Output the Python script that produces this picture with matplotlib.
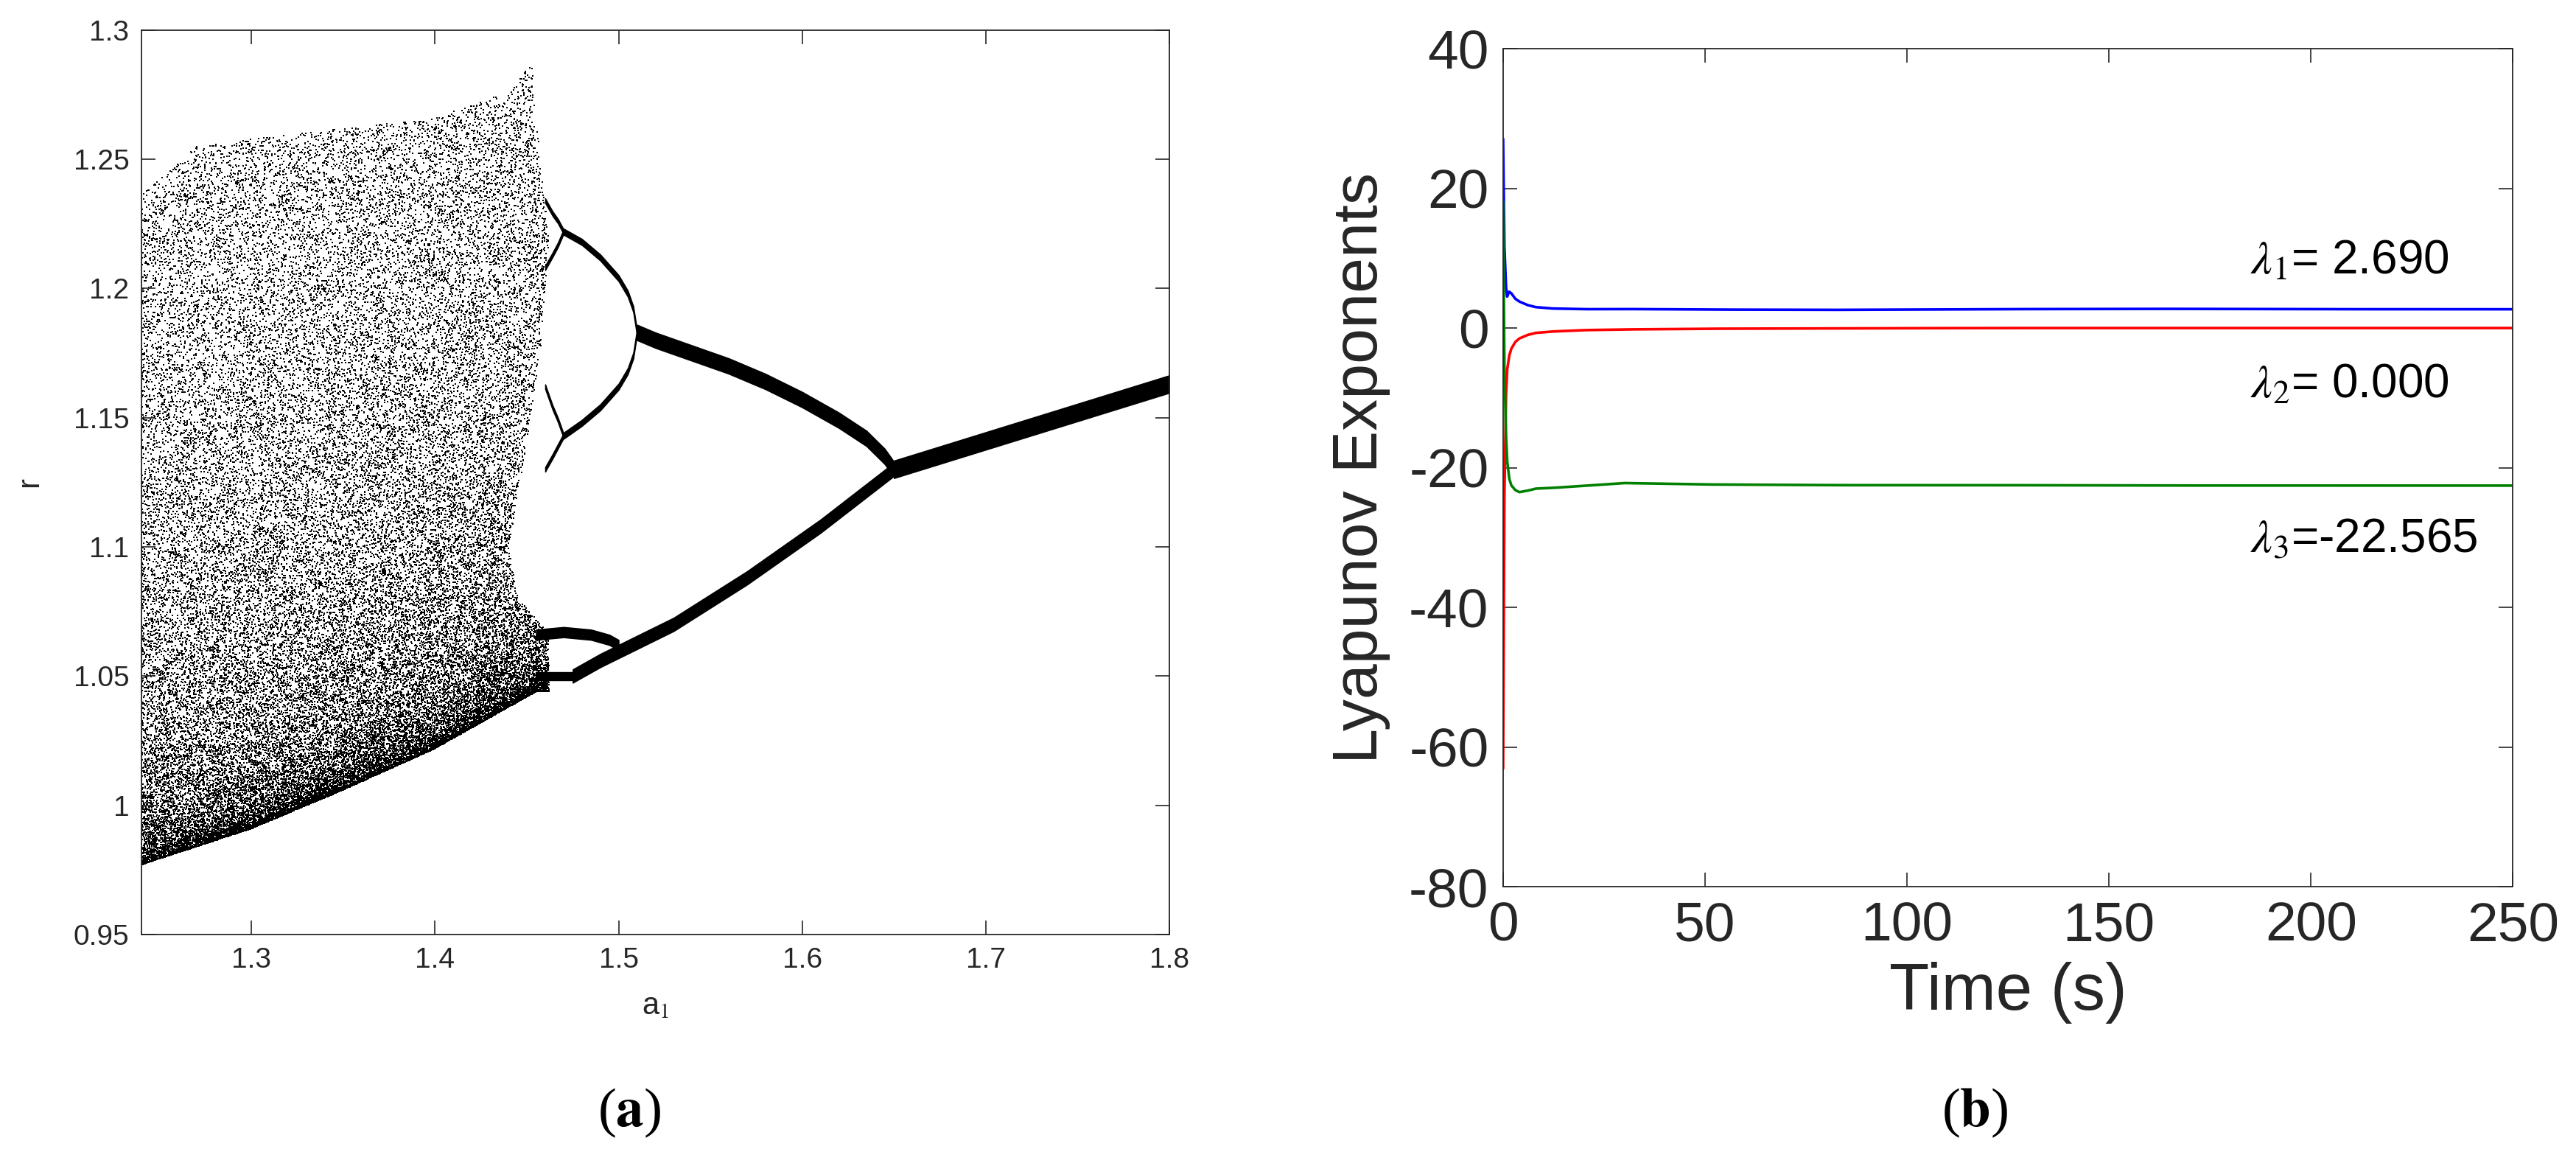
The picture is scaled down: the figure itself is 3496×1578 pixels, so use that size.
import numpy as np
import matplotlib
matplotlib.use("Agg")
import matplotlib.pyplot as plt

plt.rcParams['font.family'] = ['Liberation Sans', 'DejaVu Sans']
plt.rcParams['mathtext.fontset'] = 'stix'

# ---------- panel (a) data: bifurcation diagram ----------
chaos_a = [1.24, 1.27, 1.30, 1.35, 1.40, 1.44, 1.455]
chaos_low = [0.977, 0.984, 0.991, 1.006, 1.022, 1.038, 1.044]
chaos_up = [1.236, 1.255, 1.258, 1.262, 1.266, 1.276, 1.29]
edge_r = [0.95, 1.04, 1.06, 1.08, 1.10, 1.14, 1.18, 1.22, 1.26, 1.30]
edge_a = [1.50, 1.49, 1.47, 1.445, 1.44, 1.45, 1.458, 1.462, 1.456, 1.452]

br_single_a = [1.65, 1.70, 1.75, 1.80]
br_single_r = [1.130, 1.141, 1.152, 1.163]
br_up_a = [1.51, 1.52, 1.54, 1.56, 1.58, 1.60, 1.62, 1.635, 1.645, 1.65]
br_up_r = [1.183, 1.180, 1.175, 1.170, 1.164, 1.157, 1.149, 1.142, 1.135, 1.130]
br_low_a = [1.475, 1.49, 1.51, 1.53, 1.55, 1.57, 1.59, 1.61, 1.63, 1.65]
br_low_r = [1.050, 1.056, 1.063, 1.070, 1.079, 1.088, 1.098, 1.108, 1.119, 1.130]
br_p4a_a = [1.470, 1.480, 1.490, 1.495, 1.500, 1.505, 1.508, 1.510]
br_p4a_r = [1.222, 1.218, 1.212, 1.208, 1.204, 1.198, 1.192, 1.183]
br_p4b_a = [1.470, 1.480, 1.490, 1.495, 1.500, 1.505, 1.508, 1.510]
br_p4b_r = [1.143, 1.148, 1.154, 1.158, 1.162, 1.168, 1.174, 1.183]
br_p8a_a = [1.460, 1.464, 1.467, 1.470]
br_p8a_r = [1.234, 1.229, 1.226, 1.222]
br_p8b_a = [1.460, 1.464, 1.467, 1.470]
br_p8b_r = [1.208, 1.213, 1.217, 1.222]
br_p8c_a = [1.460, 1.464, 1.467, 1.470]
br_p8c_r = [1.162, 1.154, 1.149, 1.143]
br_p8d_a = [1.460, 1.464, 1.467, 1.470]
br_p8d_r = [1.130, 1.135, 1.139, 1.143]
br_lp_a = [1.455, 1.47, 1.485, 1.495, 1.50]
br_lp_r = [1.066, 1.067, 1.066, 1.064, 1.062]
br_lq_a = [1.455, 1.465, 1.475]
br_lq_r = [1.050, 1.050, 1.050]

branches = [
    (br_single_a, br_single_r, 0.0034),
    (br_up_a, br_up_r, 0.0030),
    (br_low_a, br_low_r, 0.0026),
    (br_p4a_a, br_p4a_r, 0.0012),
    (br_p4b_a, br_p4b_r, 0.0012),
    (br_p8a_a, br_p8a_r, 0.0009),
    (br_p8b_a, br_p8b_r, 0.0009),
    (br_p8c_a, br_p8c_r, 0.0009),
    (br_p8d_a, br_p8d_r, 0.0009),
    (br_lp_a, br_lp_r, 0.0020),
    (br_lq_a, br_lq_r, 0.0016),
]

# ---------- panel (b) data: Lyapunov exponents ----------
t_pts = [0, 0.3, 0.7, 1, 1.5, 2, 3, 4, 6, 8, 12, 20, 30, 50, 80, 120, 160, 200, 250]
le1 = [27, 12, 6, 4.5, 5.2, 5.0, 4.2, 3.8, 3.3, 3.0, 2.8, 2.7, 2.72, 2.65, 2.6, 2.7, 2.75, 2.7, 2.69]
le2 = [-63, -25, -10, -6, -4, -3, -2, -1.5, -1.0, -0.7, -0.5, -0.3, -0.2, -0.1, -0.05, 0, 0, 0, 0]
le3 = [18, -5, -15, -19, -21.5, -22.5, -23.2, -23.5, -23.3, -23.0, -22.9, -22.6, -22.2, -22.4, -22.5, -22.5, -22.55, -22.56, -22.565]
le_labels = [r'$\lambda_1$= 2.690', r'$\lambda_2$= 0.000', r'$\lambda_3$=-22.565']
le_label_y = [9.6, -8.2, -30.3]

fig = plt.figure(figsize=(34.96, 15.78), dpi=100)

# ---------- panel (a) ----------
ax1 = fig.add_axes([0.0549, 0.1965, 0.399, 0.7776])
n = 50000
u = np.empty(n); v = np.empty(n)
x, y = 0.1234567, 0.7654321
for i in range(n):
    x = 4 * x * (1 - x); y = 4 * y * (1 - y)
    u[i] = x; v[i] = y
wu = 2 / np.pi * np.arcsin(np.sqrt(np.clip(u, 0, 1)))
wv = 2 / np.pi * np.arcsin(np.sqrt(np.clip(v, 0, 1)))
pa = 1.24 + (1.462 - 1.24) * wv
low = np.interp(pa, chaos_a, chaos_low)
up = np.interp(pa, chaos_a, chaos_up)
pr = low + (up - low) * wu ** 2.0
keep = pa <= np.interp(pr, edge_r, edge_a)
ax1.scatter(pa[keep], pr[keep], s=2.0, c='k', marker='s', linewidths=0)

for ba, brr, h in branches:
    aa = np.linspace(ba[0], ba[-1], 300)
    rr = np.interp(aa, ba, brr)
    ax1.fill_between(aa, rr - h, rr + h, color='k', linewidth=1.0, edgecolor='k')

ax1.set_xlim(1.24, 1.8)
ax1.set_ylim(0.95, 1.3)
ax1.set_xticks([1.3, 1.4, 1.5, 1.6, 1.7, 1.8])
ax1.set_xticklabels(['1.3', '1.4', '1.5', '1.6', '1.7', '1.8'])
ax1.set_yticks([0.95, 1.0, 1.05, 1.1, 1.15, 1.2, 1.25, 1.3])
ax1.set_yticklabels(['0.95', '1', '1.05', '1.1', '1.15', '1.2', '1.25', '1.3'])
ax1.tick_params(direction='in', length=14, width=1.2, labelsize=28, colors='#262626',
                top=True, right=True, pad=12)
ax1.set_xlabel(r'a$_1$', fontsize=30, color='#262626', labelpad=18)
ax1.set_ylabel('r', fontsize=30, color='#262626', labelpad=28)
for s in ax1.spines.values():
    s.set_color('#262626'); s.set_linewidth(1.3)

# ---------- panel (b) ----------
ax2 = fig.add_axes([0.5835, 0.2376, 0.392, 0.7205])
tt = np.concatenate([np.linspace(0, 20, 2000), np.linspace(20, 250, 2000)[1:]])
ax2.plot(tt, np.interp(tt, t_pts, le1), color='#0000ff', lw=2.6)
ax2.plot(tt, np.interp(tt, t_pts, le2), color='#ff0000', lw=2.6)
ax2.plot(tt, np.interp(tt, t_pts, le3), color='#008000', lw=2.6)
for lab, yy in zip(le_labels, le_label_y):
    ax2.text(185, yy, lab, fontsize=46, va='center', ha='left', color='k')
ax2.set_xlim(0, 250)
ax2.set_ylim(-80, 40)
ax2.set_xticks([0, 50, 100, 150, 200, 250])
ax2.set_yticks([-80, -60, -40, -20, 0, 20, 40])
ax2.set_yticklabels(['-80', '-60', '-40', '-20', '0', '20', '40'])
ax2.tick_params(direction='in', length=14, width=1.2, labelsize=54, colors='#262626',
                top=True, right=True, pad=14)
ax2.set_xlabel('Time (s)', fontsize=64, color='#262626', labelpad=10)
ax2.set_ylabel('Lyapunov Exponents', fontsize=62, color='#262626', labelpad=18)
for s in ax2.spines.values():
    s.set_color('#262626'); s.set_linewidth(1.3)

fig.text(854 / 3496, 1 - 1510 / 1578, r'($\mathbf{a}$)', fontsize=54, ha='center', va='center',
         family='Liberation Serif')
fig.text(2680 / 3496, 1 - 1510 / 1578, r'($\mathbf{b}$)', fontsize=54, ha='center', va='center',
         family='Liberation Serif')

fig.savefig('out.png', dpi=100)
